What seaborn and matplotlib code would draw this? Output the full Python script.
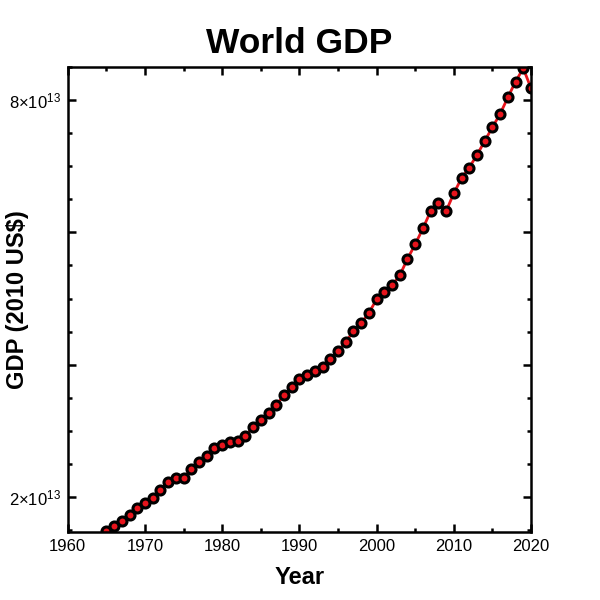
import matplotlib
matplotlib.use("Agg")
import matplotlib.pyplot as plt
import seaborn as sns
import pandas as pd
from matplotlib.ticker import FixedLocator, MultipleLocator

# World GDP, constant 2010 US$ (values in units of 1e13)
YEARS = list(range(1965, 2021))
GDP_E13 = [
	1.49, 1.56, 1.64, 1.73, 1.83, 1.91, 1.99, 2.11, 2.23, 2.28,
	2.29, 2.42, 2.53, 2.62, 2.74, 2.79, 2.83, 2.85, 2.92, 3.06,
	3.16, 3.27, 3.39, 3.54, 3.66, 3.78, 3.84, 3.90, 3.96, 4.08,
	4.21, 4.34, 4.51, 4.63, 4.78, 4.99, 5.10, 5.20, 5.35, 5.60,
	5.82, 6.06, 6.32, 6.44, 6.32, 6.59, 6.82, 6.98, 7.17, 7.38,
	7.59, 7.79, 8.04, 8.28, 8.48, 8.18,
]
Y_TICKS = [2e13, 4e13, 6e13, 8e13]
Y_TICK_LABELS = ["2×10$^{13}$", "", "", "8×10$^{13}$"]
X_TICKS = [1960, 1970, 1980, 1990, 2000, 2010, 2020]


def main() -> None:
	sns.set_style("ticks")
	plt.rcParams["font.family"] = ["Liberation Sans", "DejaVu Sans"]
	plt.rcParams["mathtext.fontset"] = "custom"
	plt.rcParams["mathtext.rm"] = "Liberation Sans"
	plt.rcParams["mathtext.it"] = "Liberation Sans"
	for key in ["text.color", "axes.labelcolor", "xtick.color", "ytick.color"]:
		plt.rcParams[key] = "black"

	df = pd.DataFrame({"year": YEARS, "gdp": [v * 1e13 for v in GDP_E13]})

	fig = plt.figure(figsize=(6, 6), dpi=100)
	ax = fig.add_axes([0.113, 0.1133, 0.772, 0.775])

	sns.lineplot(
		data=df,
		x="year",
		y="gdp",
		ax=ax,
		color="#e8141c",
		linewidth=2.0,
		marker="o",
		markersize=6.5,
		markerfacecolor="#e8141c",
		markeredgecolor="black",
		markeredgewidth=2.2,
	)

	ax.set_xlim(1960, 2020)
	ax.set_ylim(1.47e13, 8.50e13)

	ax.xaxis.set_major_locator(FixedLocator(X_TICKS))
	ax.xaxis.set_minor_locator(MultipleLocator(5))
	ax.yaxis.set_major_locator(FixedLocator(Y_TICKS))
	ax.set_yticklabels(Y_TICK_LABELS)
	ax.yaxis.set_minor_locator(MultipleLocator(0.5e13))

	ax.tick_params(which="both", direction="in", top=True, right=True,
		width=1.8, labelsize=12, pad=5)
	ax.tick_params(which="major", length=6)
	ax.tick_params(which="minor", length=3)
	for spine in ax.spines.values():
		spine.set_linewidth(1.8)
		spine.set_color("black")

	ax.set_title("World GDP", fontsize=25.5, fontweight="bold", pad=10)
	ax.set_xlabel("Year", fontsize=17, fontweight="bold", labelpad=9)
	ax.set_ylabel("GDP (2010 US$)", fontsize=17, fontweight="bold")
	ax.yaxis.set_label_coords(-0.084, 0.5)

	fig.savefig("out.png", dpi=100)


if __name__ == "__main__":
	main()
